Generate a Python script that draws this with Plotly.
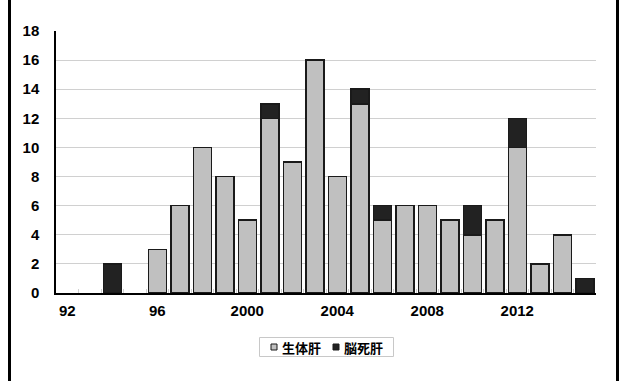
import plotly.graph_objects as go

# Liver transplants per year, by donor type
years = list(range(1992, 2016))
living_donor = [0, 0, 0, 0, 3, 6, 10, 8, 5, 12, 9, 16, 8, 13, 5, 6, 6, 5, 4, 5, 10, 2, 4, 0]
brain_dead = [0, 0, 2, 0, 0, 0, 0, 0, 0, 1, 0, 0, 0, 1, 1, 0, 0, 0, 2, 0, 2, 0, 0, 1]
series_names = ["生体肝", "脳死肝"]
series_colors = ["#c0c0c0", "#222222"]
x_tick_years = [1992, 1996, 2000, 2004, 2008, 2012]
x_tick_labels = ["92", "96", "2000", "2004", "2008", "2012"]
y_ticks = list(range(0, 19, 2))

FONT = "Liberation Sans, Arial, Noto Sans CJK JP, sans-serif"
CJK_FONT = "Noto Sans CJK JP, sans-serif"
OUTLINE = dict(color="#1a1a1a", width=1.5)


def drop_zero(vals):
    return [v if v else None for v in vals]


fig = go.Figure()
for vals, name, color in zip([living_donor, brain_dead], series_names, series_colors):
    fig.add_trace(go.Bar(x=years, y=drop_zero(vals), name=name, showlegend=False,
                         marker=dict(color=color, line=OUTLINE)))

W, H = 619, 381
L, R, T, B = 56, 23, 31, 88
pw, ph = W - L - R, H - T - B


def px_x(px):
    return (px - L) / pw


def px_y(py):
    return (H - B - py) / ph


# outer side rules of the frame
shapes = [
    dict(type="line", xref="paper", yref="paper", x0=px_x(9.5), x1=px_x(9.5),
         y0=px_y(0), y1=px_y(H), line=dict(color="black", width=3)),
    dict(type="line", xref="paper", yref="paper", x0=px_x(617.5), x1=px_x(617.5),
         y0=px_y(0), y1=px_y(H), line=dict(color="black", width=3)),
    # compact key box below the axis
    dict(type="rect", xref="paper", yref="paper", x0=px_x(259.5), x1=px_x(393.5),
         y0=px_y(337.5), y1=px_y(356.5), line=dict(color="#c8c8c8", width=1),
         fillcolor="white"),
]
annotations = []
key_slots = [(271, 279.5), (333, 342)]
for (sx, tx), name, color in zip(key_slots, series_names, series_colors):
    shapes.append(dict(type="rect", xref="paper", yref="paper",
                       x0=px_x(sx), x1=px_x(sx + 6), y0=px_y(344), y1=px_y(350),
                       fillcolor=color, line=dict(color="#1a1a1a", width=1)))
    annotations.append(dict(xref="paper", yref="paper", x=px_x(tx), y=px_y(347),
                            xanchor="left", yanchor="middle", showarrow=False,
                            text=f"<b>{name}</b>",
                            font=dict(family=CJK_FONT, size=13, color="black")))

fig.update_layout(
    width=W, height=H,
    margin=dict(l=L, r=R, t=T, b=B, pad=0),
    paper_bgcolor="white", plot_bgcolor="white",
    barmode="stack", bargap=0.2,
    font=dict(family=FONT, size=15, color="black", weight="bold"),
    shapes=shapes, annotations=annotations, showlegend=False,
    xaxis=dict(range=[1991.5, 2015.5], tickvals=x_tick_years, ticktext=x_tick_labels,
               showgrid=False, showline=True, linecolor="black", linewidth=2,
               ticks="", ticklabelstandoff=3, zeroline=False,
               minor=dict(tickvals=[y + 0.5 for y in years[:-1]], ticks="inside",
                          ticklen=4, tickcolor="#d0d0d0", tickwidth=1, showgrid=False)),
    yaxis=dict(range=[0, 18], tickvals=y_ticks, showgrid=True, gridcolor="#d0d0d0",
               gridwidth=1, showline=True, linecolor="black", linewidth=1.5,
               ticks="", ticklabelstandoff=12, zeroline=False),
)

fig.write_html("out.html")
